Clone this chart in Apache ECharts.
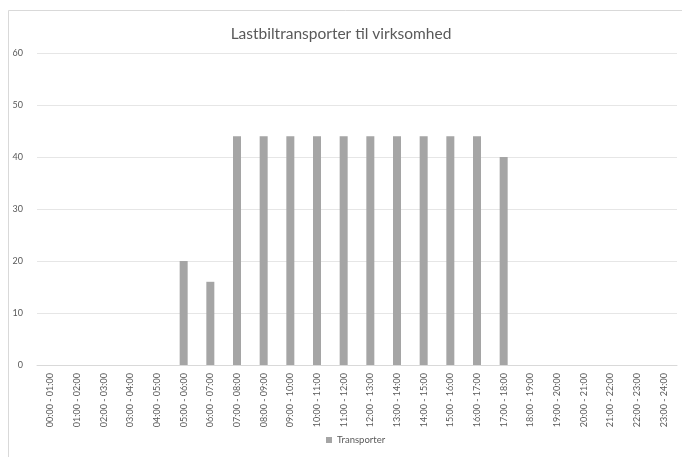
<!DOCTYPE html>
<html>
<head>
<meta charset="utf-8">
<script src="https://cdn.jsdelivr.net/npm/echarts@6/dist/echarts.min.js"></script>
<style>
  html, body { margin: 0; padding: 0; background: #fff; }
  #chart { width: 682px; height: 457px; }
</style>
</head>
<body>
<div id="chart"></div>
<script>
// time slots per hour
var hours = ['00:00 - 01:00', '01:00 - 02:00', '02:00 - 03:00', '03:00 - 04:00', '04:00 - 05:00',
  '05:00 - 06:00', '06:00 - 07:00', '07:00 - 08:00', '08:00 - 09:00', '09:00 - 10:00',
  '10:00 - 11:00', '11:00 - 12:00', '12:00 - 13:00', '13:00 - 14:00', '14:00 - 15:00',
  '15:00 - 16:00', '16:00 - 17:00', '17:00 - 18:00', '18:00 - 19:00', '19:00 - 20:00',
  '20:00 - 21:00', '21:00 - 22:00', '22:00 - 23:00', '23:00 - 24:00'];
var transporter = [0, 0, 0, 0, 0, 20, 16, 44, 44, 44, 44, 44, 44, 44, 44, 44, 44, 40, 0, 0, 0, 0, 0, 0];

var txtColor = '#595959';
var chart = echarts.init(document.getElementById('chart'));
var option = {
  backgroundColor: '#fff',
  textStyle: { fontFamily: 'Lato' },
  animation: false,
  graphic: [{
    type: 'rect',
    shape: { x: 8.5, y: 10.5, width: 700, height: 470 },
    style: { fill: 'none', stroke: '#d9d9d9', lineWidth: 1 },
    silent: true
  }],
  title: {
    text: 'Lastbiltransporter til virksomhed',
    left: 'center',
    top: 21,
    textStyle: { color: txtColor, fontSize: 15.5, fontWeight: 'normal', fontFamily: 'Lato' }
  },
  legend: {
    bottom: 7,
    left: 321,
    itemWidth: 6,
    itemHeight: 6,
    itemGap: 4,
    icon: 'rect',
    textStyle: { color: txtColor, fontSize: 9.5, fontFamily: 'Lato' },
    data: ['Transporter']
  },
  grid: { left: 37, right: 5, top: 53, bottom: 92 },
  xAxis: {
    type: 'category',
    data: hours,
    axisLine: { lineStyle: { color: '#d9d9d9' } },
    axisTick: { show: false },
    axisLabel: { rotate: 90, interval: 0, color: txtColor, fontSize: 9, margin: 8, fontFamily: 'Lato' }
  },
  yAxis: {
    type: 'value',
    min: 0,
    max: 60,
    interval: 10,
    axisLine: { show: false },
    axisTick: { show: false },
    splitLine: { lineStyle: { color: '#e6e6e6' } },
    axisLabel: { color: txtColor, fontSize: 9, margin: 14, fontFamily: 'Lato' }
  },
  series: [{
    name: 'Transporter',
    type: 'bar',
    data: transporter,
    barWidth: 8,
    itemStyle: { color: '#a5a5a5' }
  }]
};
chart.setOption(option);
</script>
</body>
</html>
